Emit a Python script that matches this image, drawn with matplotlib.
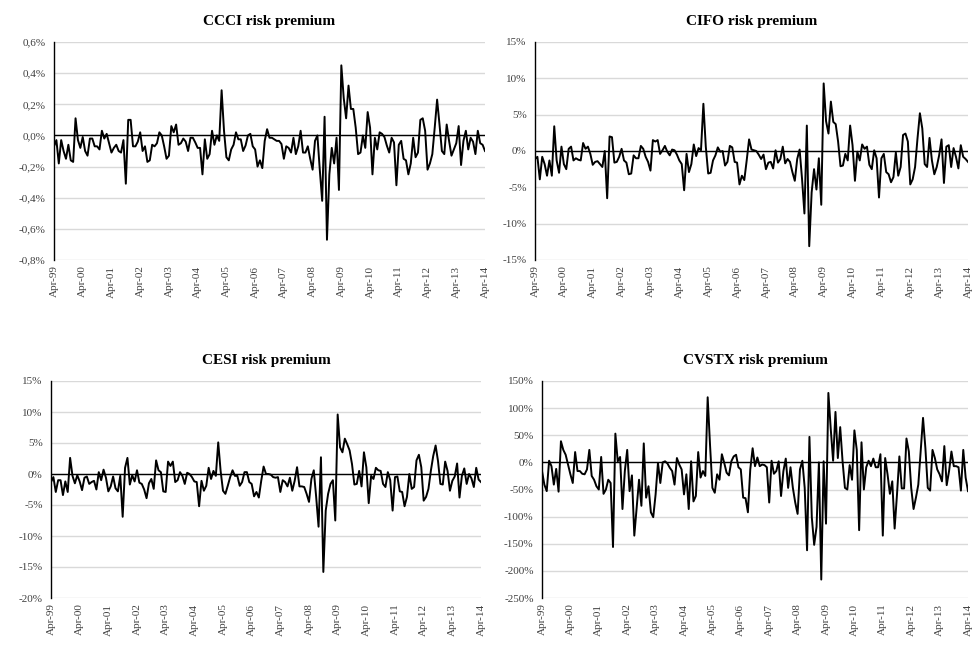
import numpy as np
import matplotlib
matplotlib.use("Agg")
import matplotlib.pyplot as plt
from matplotlib.ticker import FuncFormatter

plt.rcParams['font.family'] = ['Liberation Serif', 'DejaVu Serif']

tick_labels = ["Apr-99", "Apr-00", "Apr-01", "Apr-02", "Apr-03", "Apr-04", "Apr-05",
               "Apr-06", "Apr-07", "Apr-08", "Apr-09", "Apr-10", "Apr-11", "Apr-12",
               "Apr-13", "Apr-14"]

ccci = [-0.07, -0.03, -0.18, -0.03, -0.10, -0.15, -0.06, -0.16, -0.17, 0.11,
        -0.03, -0.08, -0.01, -0.10, -0.13, -0.02, -0.02, -0.07, -0.07, -0.09,
        0.03, -0.02, 0.01, -0.05, -0.11, -0.08, -0.06, -0.10, -0.11, -0.03,
        -0.31, 0.10, 0.10, -0.07, -0.07, -0.04, 0.02, -0.10, -0.07, -0.17,
        -0.16, -0.06, -0.07, -0.05, 0.02, 0.00, -0.07, -0.15, -0.13, 0.06,
        0.02, 0.07, -0.06, -0.05, -0.02, -0.04, -0.10,
        -0.015, -0.015, -0.045, -0.08, -0.08, -0.25, -0.025, -0.15, -0.12, 0.03,
        -0.06, 0.00, -0.035, 0.29, 0.03, -0.14, -0.16, -0.09, -0.06, 0.02,
        -0.025, -0.025, -0.10, -0.065, 0.00, 0.01, -0.07, -0.09, -0.20, -0.16,
        -0.21, -0.035, 0.04, -0.015, -0.015, -0.025, -0.035, -0.035, -0.055, -0.15,
        -0.07, -0.08, -0.11, -0.015, -0.12, -0.07, 0.03, -0.11, -0.11, -0.07,
        -0.15, -0.22, -0.035, 0.00, -0.22,
        -0.42, 0.12, -0.67, -0.25, -0.08, -0.18, -0.015, -0.35, 0.45, 0.24,
        0.11, 0.32, 0.17, 0.17, 0.05, -0.12, -0.11, 0.00, -0.08, 0.15,
        0.05, -0.25, -0.015, -0.09, 0.02, 0.01, -0.01, -0.065, -0.11, -0.015,
        -0.045, -0.32, -0.06, -0.035, -0.15, -0.16, -0.25, -0.18, -0.015, -0.14,
        -0.11, 0.10, 0.11, 0.03, -0.22, -0.18, -0.12, 0.05, 0.23, 0.07,
        -0.10, -0.12, 0.07, -0.035, -0.13, -0.09, -0.05, 0.06, -0.19, -0.035,
        0.03, -0.09, -0.015, -0.04, -0.12, 0.03, -0.05, -0.06, -0.10]

cifo = [-1.1, -0.8, -3.9, -0.8, -1.8, -3.4, -1.3, -3.4, 3.4, -1.3,
        -3.0, 0.6, -1.8, -2.5, 0.3, 0.6, -1.3, -1.0, -1.2, -1.3,
        1.1, 0.3, 0.6, -0.4, -1.9, -1.5, -1.4, -1.8, -2.2, 0.0,
        -6.5, 2.0, 1.9, -1.6, -1.5, -0.8, 0.3, -1.3, -1.6, -3.2,
        -3.1, -0.6, -1.0, -1.0, 0.7, 0.3, -0.8, -1.5, -2.7, 1.5,
        1.3, 1.5, -0.4, 0.1, 0.7, -0.1, -0.6,
        0.2, 0.1, -0.5, -1.3, -1.8, -5.4, -0.4, -2.9, -1.8, 0.9,
        -0.7, 0.4, 0.1, 6.5, 0.6, -3.1, -3.0, -1.3, -0.6, 0.5,
        -0.1, 0.0, -2.0, -1.5, 0.7, 0.5, -1.5, -1.6, -4.6, -3.4,
        -4.0, -1.3, 1.6, 0.2, 0.1, 0.0, -0.5, -1.1, -0.5, -2.5,
        -1.6, -1.5, -2.4, 0.1, -1.6, -1.1, 0.6, -1.7, -1.1, -1.5,
        -2.9, -4.1, -1.1, 0.2, -3.8, -8.6, 3.5,
        -13.1, -5.7, -2.5, -5.3, -1.0, -7.4, 9.3, 4.1, 2.4, 6.8,
        4.0, 3.7, 1.3, -2.1, -2.0, -0.4, -1.3, 3.5, 0.8, -4.1,
        -0.1, -1.3, 0.9, 0.3, 0.6, -1.9, -2.5, 0.1, -1.0, -6.4,
        -1.0, -0.4, -2.9, -3.2, -4.3, -3.6, -0.2, -3.4, -2.2, 2.2,
        2.4, 1.3, -4.6, -3.9, -2.2, 1.7, 5.2, 3.1, -1.8, -2.2,
        1.8, -1.3, -3.2, -2.2, -0.6, 1.6, -4.4, 0.6, 0.8, -2.2,
        0.4, -0.8, -2.4, 0.8, -0.8, -1.1, -1.5]

cesi = [-1.3, -0.5, -2.9, -1.0, -1.0, -3.4, -1.2, -2.9, 2.6, -0.3,
        -1.5, -0.2, -1.2, -2.6, -0.6, -0.4, -1.6, -1.3, -1.1, -2.5,
        0.3, -1.0, 0.7, -0.6, -2.8, -2.0, -0.4, -2.3, -2.8, -0.3,
        -6.9, 1.0, 2.6, -1.7, -0.2, -1.2, 0.6, -1.4, -1.6, -2.5,
        -3.9, -1.5, -0.8, -2.4, 2.2, 0.6, 0.3, -2.8, -2.9, 2.0,
        1.3, 2.0, -1.3, -1.0, 0.3, -0.3, -1.6, 0.2, 0.0,
        -0.5, -1.2, -1.3, -5.2, -1.1, -2.7, -1.9, 1.0, -0.8, 0.5,
        -0.3, 5.1, 0.5, -2.7, -3.2, -1.9, -0.5, 0.6, -0.3, -0.3,
        -1.9, -1.3, 0.3, 0.3, -1.3, -1.6, -3.6, -2.9, -3.8, -1.1,
        1.2, 0.0, 0.0, -0.1, -0.5, -0.6, -0.5, -2.9, -1.0, -1.3,
        -2.0, -0.6, -2.7, -1.1, 1.1, -2.0, -2.0, -2.1, -3.2, -4.5,
        -0.8, 0.6, -3.7, -8.5, 2.7,
        -15.8, -5.9, -3.2, -1.6, -1.0, -7.5, 9.6, 4.3, 3.5, 5.7,
        4.8, 3.8, 1.6, -1.7, -1.6, 0.5, -2.0, 3.5, 1.1, -4.7,
        -0.3, -0.8, 1.0, 0.6, 0.5, -1.6, -2.1, 0.3, -1.0, -5.9,
        -0.5, -0.4, -2.8, -2.9, -5.2, -3.7, 0.0, -2.4, -2.1, 2.2,
        3.1, 1.1, -4.3, -3.7, -2.4, 0.5, 2.9, 4.6, 2.1, -1.6,
        -1.7, 2.0, 0.5, -2.7, -1.1, -0.4, 1.7, -3.8, -0.3, 0.9,
        -1.6, 0.0, -0.7, -2.1, 1.0, -0.9, -1.3]

cvstx = [-16, -41, -53, 3, -7, -41, -12, -54, 39, 23,
         14, -4, -22, -38, 19, -16, -16, -21, -22, -13,
         23, -25, -32, -44, -50, 10, -58, -50, -32, -38,
         -156, 53, 2, 10, -86, -16, 23, -53, -24, -135,
         -83, -32, -80, 35, -65, -44, -92, -101, -59, -1,
         -38, 0, 2, -2, -10,
         -16, -41, 8, -4, -13, -59, -22, -86, 2, -72,
         -62, 19, -28, -16, -25, 120, 32, -47, -56, -22,
         -32, 15, -1, -19, -24, 2, 11, 14, -9, -13,
         -65, -66, -92, -13, 26, -7, 9, -7, -4, -5,
         -9, -74, 3, -21, -16, 2, -62, -16, 7, -47,
         -9, -47, -74, -95, -13, 3, -47, -162, 47,
         -101, -152, -119, 0, -216, 2, -113, 128, 62, 3,
         93, 8, 65, 2, -47, -50, -5, -32, 59, 23,
         -125, 37, -50, -9, 3, -7, 7, -9, -9, 15,
         -135, 8, -22, -58, -35, -122, -59, 11, -48, -48,
         44, 20, -47, -86, -65, -41, 20, 82, 26, -47,
         -52, 23, 8, -13, -22, -35, 30, -42, -16, 20,
         -7, -7, -9, -52, 23, -28, -53]

titles = ["CCCI risk premium", "CIFO risk premium", "CESI risk premium", "CVSTX risk premium"]
series = [ccci, cifo, cesi, cvstx]

W, H = 973, 652
fig = plt.figure(figsize=(W / 100, H / 100), dpi=100)

# panel rectangles in pixels: left, top, right, bottom
rects = [(54, 42, 485, 260), (535, 42, 968, 260), (51, 381, 481, 598), (542, 381, 968, 598)]
ylims = [(-0.8, 0.6, 0.2), (-15, 15, 5), (-20, 15, 5), (-250, 150, 50)]


def fmt_comma(v, pos):
    v = round(v, 1) + 0.0
    return ("%.1f%%" % v).replace(".", ",").replace("-0,0", "0,0")


def fmt_int(v, pos):
    return "%d%%" % round(v)


for i, (vals, title, rect, yl) in enumerate(zip(series, titles, rects, ylims)):
    l, t, r, b = rect
    ax = fig.add_axes([l / W, 1 - b / H, (r - l) / W, (b - t) / H])
    x = np.arange(len(vals))
    ax.plot(x, vals, color="black", lw=1.4, zorder=3)
    ax.axhline(0, color="black", lw=1.0, zorder=2)
    lo, hi, st = yl
    ax.set_ylim(lo, hi)
    ax.set_yticks(np.arange(lo, hi + st / 2, st))
    ax.yaxis.set_major_formatter(FuncFormatter(fmt_comma if i == 0 else fmt_int))
    ax.set_xlim(0, 180)
    ax.set_xticks(np.arange(0, 181, 12))
    ax.set_xticklabels(tick_labels, rotation=90)
    ax.grid(axis="y", color="#d9d9d9", lw=1.0, zorder=0)
    ax.set_axisbelow(True)
    for s in ["top", "right", "bottom"]:
        ax.spines[s].set_visible(False)
    ax.spines["left"].set_color("black")
    ax.spines["left"].set_linewidth(1.0)
    ax.tick_params(axis="both", length=0, labelsize=8, colors="#404040", pad=6)
    ax.tick_params(axis="x", pad=4)
    ax.set_title(title, fontsize=11, fontweight="bold", pad=12)

fig.savefig("out.png", dpi=100)
